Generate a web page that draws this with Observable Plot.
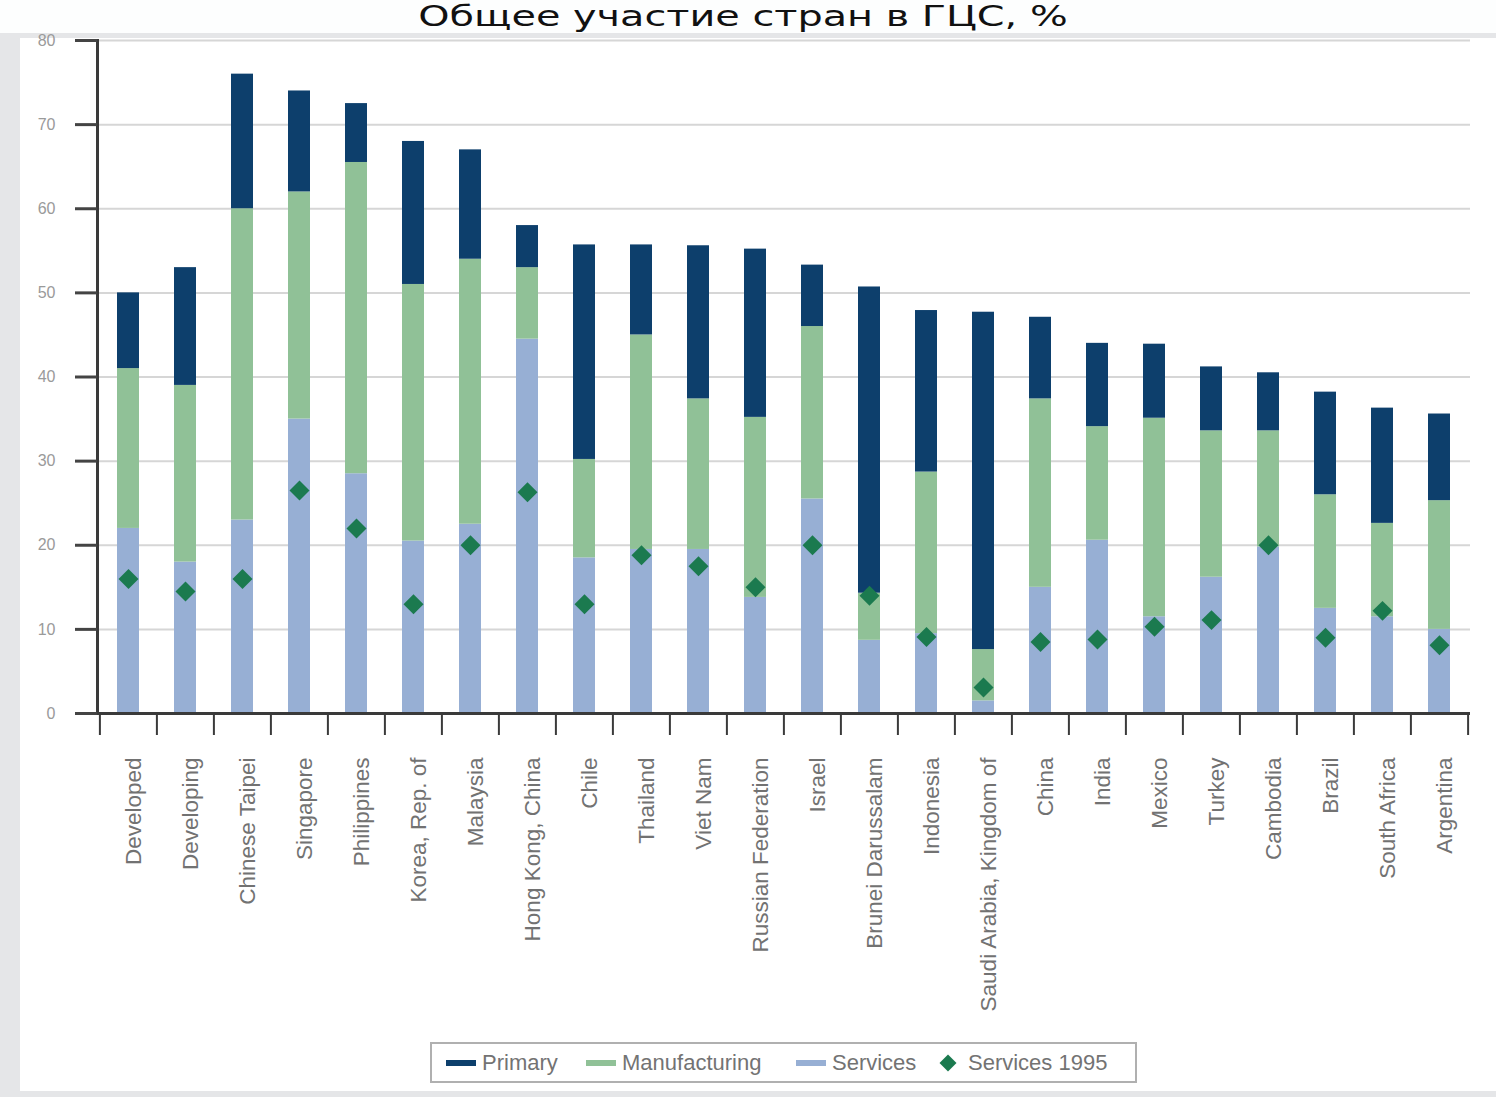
<!DOCTYPE html>
<html>
<head>
<meta charset="utf-8">
<script src="https://cdn.jsdelivr.net/npm/d3@7"></script>
<script src="https://cdn.jsdelivr.net/npm/@observablehq/plot@0.6"></script>
<style>
  html, body { margin: 0; padding: 0; }
  body { width: 1496px; height: 1097px; background: #e5e6e8; position: relative; overflow: hidden; font-family: "Liberation Sans", Arial, sans-serif; }
  #titleband { position: absolute; left: 0; top: 0; width: 1496px; height: 33px; background: #fdfefe; }
  #title { position: absolute; left: 0; width: 1496px; top: 2px; text-align: center; font-family: "DejaVu Sans", sans-serif; font-size: 28px; line-height: 30px; color: #111; white-space: nowrap; transform: scaleX(1.42); transform-origin: 760px 0; }
  #card { position: absolute; left: 20px; top: 38px; width: 1476px; height: 1053px; background: #ffffff; }
  #chart { position: absolute; left: 20px; top: 30px; }
  #legend { position: absolute; left: 430px; top: 1042px; width: 703px; height: 37px; border: 2px solid #b0b0b0; background: #fff; font-size: 22px; color: #737373; box-sizing: content-box; }
  .item { position: absolute; top: 0; height: 37px; display: flex; align-items: center; white-space: nowrap; }
  .sw { display: inline-block; width: 30px; height: 6px; margin-right: 6px; }
  .dia { display: inline-block; width: 12px; height: 12px; transform: rotate(45deg); background: #1b7a4f; margin: 0 14px 0 4px; }
</style>
</head>
<body>
<div id="titleband"><div id="title">Общее участие стран в ГЦС, %</div></div>
<div id="card"></div>
<div id="chart"></div>
<div id="legend"></div>
<script>
// ---- data ----
const countries = ["Developed", "Developing", "Chinese Taipei", "Singapore", "Philippines", "Korea, Rep. of", "Malaysia", "Hong Kong, China", "Chile", "Thailand", "Viet Nam", "Russian Federation", "Israel", "Brunei Darussalam", "Indonesia", "Saudi Arabia, Kingdom of", "China", "India", "Mexico", "Turkey", "Cambodia", "Brazil", "South Africa", "Argentina"];
const services      = [22, 18, 23, 35, 28.5, 20.5, 22.5, 44.5, 18.5, 19.5, 19.5, 13.8, 25.5, 8.7, 9.5, 1.5, 15, 20.6, 11.5, 16.2, 19.8, 12.5, 11.5, 10];
const manufacturing = [19, 21, 37, 27, 37, 30.5, 31.5, 8.5, 11.7, 25.5, 17.9, 21.4, 20.5, 5.6, 19.2, 6.1, 22.4, 13.5, 23.6, 17.4, 13.8, 13.5, 11.1, 15.3];
const primary       = [9, 14, 16, 12, 7, 17, 13, 5, 25.5, 10.7, 18.2, 20, 7.3, 36.4, 19.2, 40.1, 9.7, 9.9, 8.8, 7.6, 6.9, 12.2, 13.7, 10.3];
const services1995  = [16, 14.5, 16, 26.5, 22, 13, 20, 26.3, 13, 18.8, 17.5, 15, 20, 14, 9.1, 3.1, 8.5, 8.8, 10.3, 11.1, 20, 9, 12.2, 8.1];
const components = ["Services", "Manufacturing", "Primary"];
const legendLabels = ["Primary", "Manufacturing", "Services", "Services 1995"];
const yTicks = [0, 10, 20, 30, 40, 50, 60, 70, 80];
const colors = {Primary: "#0d3f6c", Manufacturing: "#90c197", Services: "#97afd4", dot: "#1b7a4f"};

// ---- build tables ----
const series = {Services: services, Manufacturing: manufacturing, Primary: primary};
const long = [];
countries.forEach((c, i) => components.forEach(k => long.push({country: c, component: k, value: series[k][i]})));
const dots = countries.map((c, i) => ({country: c, value: services1995[i]}));

const W = 1476, H = 1000, mL = 77, mR = 26, mT = 10, mB = 317;
const step = (W - mL - mR) / countries.length;

const chart = Plot.plot({
  width: W, height: H,
  marginLeft: mL, marginRight: mR, marginTop: mT, marginBottom: mB,
  style: {fontFamily: "Liberation Sans, Arial, sans-serif", background: "transparent"},
  x: {domain: countries, paddingInner: 0.62, paddingOuter: 0.31, axis: null, label: null},
  y: {domain: [0, 80], axis: null, label: null},
  color: {domain: components, range: [colors.Services, colors.Manufacturing, colors.Primary]},
  marks: [
    Plot.ruleY(yTicks.filter(d => d > 0), {stroke: "#d6d6d6", strokeWidth: 2}),
    Plot.barY(long, {x: "country", y: "value", fill: "component", order: components}),
    Plot.dot(dots, {x: "country", y: "value", symbol: "diamond2", r: 9, fill: colors.dot, stroke: "none"}),
    Plot.ruleY([0], {stroke: "#3a3a3a", strokeWidth: 3}),
    Plot.frame({anchor: "left", stroke: "#3a3a3a", strokeWidth: 3}),
    Plot.axisY({ticks: yTicks, label: null, tickSize: 22, tickPadding: 20, strokeWidth: 3, stroke: "#444", fill: "#9a9a9a", fontSize: 16}),
    Plot.axisX({label: null, tickSize: 22, strokeWidth: 2, stroke: "#3a3a3a", tickFormat: () => "", dx: -step / 2}),
    Plot.axisX([countries[countries.length - 1]], {label: null, tickSize: 22, strokeWidth: 2, stroke: "#3a3a3a", tickFormat: () => "", dx: step / 2}),
    Plot.axisX({label: null, tickSize: 0, tickPadding: 44, tickRotate: -90, fontSize: 22.5, fill: "#727272", dx: 5})
  ]
});
document.getElementById("chart").appendChild(chart);

// ---- legend ----
const lg = document.getElementById("legend");
const lcol = {Primary: colors.Primary, Manufacturing: colors.Manufacturing, Services: colors.Services};
const itemLeft = [14, 154, 364, 506];
legendLabels.forEach((name, i) => {
  const it = document.createElement("div");
  it.className = "item";
  it.style.left = itemLeft[i] + "px";
  const sw = document.createElement("span");
  if (lcol[name]) { sw.className = "sw"; sw.style.background = lcol[name]; }
  else { sw.className = "dia"; }
  const tx = document.createElement("span");
  tx.textContent = name;
  it.appendChild(sw); it.appendChild(tx);
  lg.appendChild(it);
});
</script>
</body>
</html>
